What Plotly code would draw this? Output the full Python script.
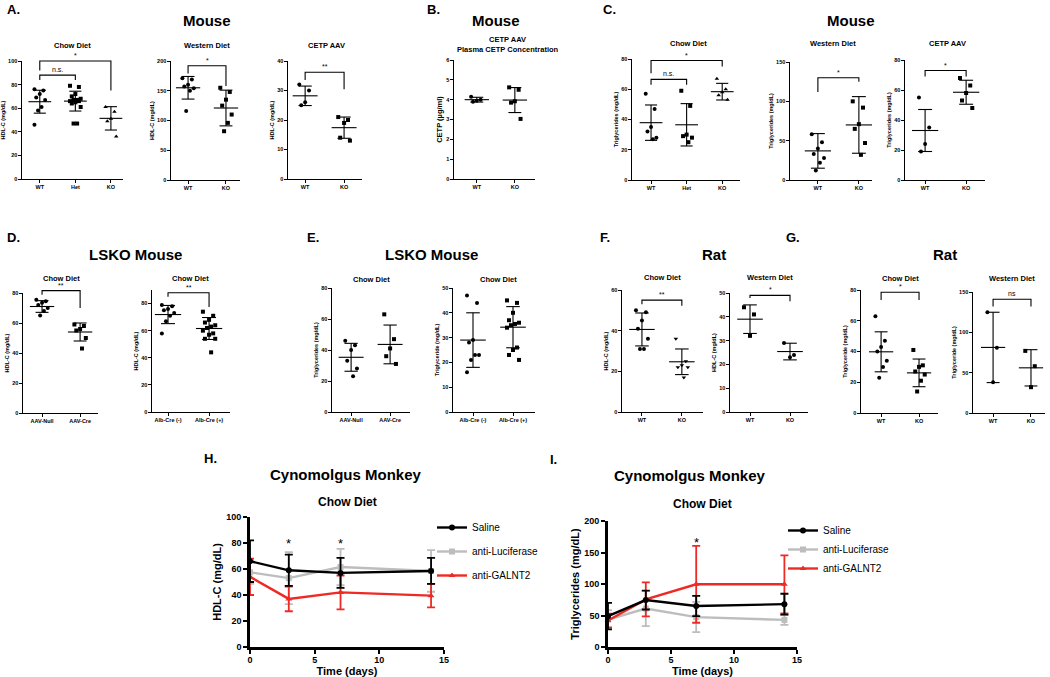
import plotly.graph_objects as go

W, H = 1050, 677
FONT = "Liberation Sans, Arial, sans-serif"
RED = "#ee2a24"
GREY = "#bdbdbd"

# ---------------- data ----------------
# A. Mouse, HDL-C
A_CHOW_CATS = ["WT", "Het", "KO"]
A_CHOW_VALS = [[76, 75, 72, 69, 67, 61, 58, 46],
               [79, 78, 72, 70, 68, 67, 67, 66, 66, 65, 64, 61, 47, 47],
               [61, 57, 51, 49, 36]]
A_CHOW_MEAN = [65.5, 66, 51.4]
A_CHOW_SD = [9.7, 8.4, 9.9]
A_CHOW_SIG = [(0, 1, 88, 84, 84, "n.s."), (0, 2, 100, 92, 75, "*")]

A_WEST_CATS = ["WT", "KO"]
A_WEST_VALS = [[171, 169, 160, 157, 154, 150, 116], [155, 148, 135, 125, 110, 96, 82]]
A_WEST_MEAN = [155, 121]
A_WEST_SD = [19, 30]
A_WEST_SIG = [(0, 1, 192, 179, 158, "*")]

A_CETP_CATS = ["WT", "KO"]
A_CETP_VALS = [[32, 30, 26, 25], [21, 20, 19, 14, 13]]
A_CETP_MEAN = [28.2, 17.4]
A_CETP_SD = [3.3, 3.6]
A_CETP_SIG = [(0, 1, 36.2, 33.6, 30.4, "**")]

# B. Mouse, plasma CETP
B_CATS = ["WT", "KO"]
B_VALS = [[4.15, 4.0, 3.95, 3.9], [4.62, 4.5, 3.92, 3.85, 3.03]]
B_MEAN = [4.0, 3.98]
B_SD = [0.12, 0.63]

# C. Mouse, triglycerides
C_CHOW_CATS = ["WT", "Het", "KO"]
C_CHOW_VALS = [[57, 47, 35, 32, 28, 27], [59, 49, 30, 29, 28, 25], [67, 60, 58, 56, 53]]
C_CHOW_MEAN = [37.9, 36.5, 58.4]
C_CHOW_SD = [11.7, 14, 5.5]
C_CHOW_SIG = [(0, 1, 66.5, 63, 63, "n.s."), (0, 2, 79, 70.5, 75, "*")]

C_WEST_CATS = ["WT", "KO"]
C_WEST_VALS = [[58, 48, 40, 33, 28, 22, 12], [100, 92, 71, 65, 47, 32]]
C_WEST_MEAN = [37, 70]
C_WEST_SD = [22, 36]
C_WEST_SIG = [(0, 1, 130, 112, 125, "*")]

C_CETP_CATS = ["WT", "KO"]
C_CETP_VALS = [[55, 35, 24, 19], [68, 63, 58, 53, 48]]
C_CETP_MEAN = [33, 58.5]
C_CETP_SD = [14, 8]
C_CETP_SIG = [(0, 1, 73, 69, 69, "*")]

# D. LSKO mouse, HDL-C
D_AAV_CATS = ["AAV-Null", "AAV-Cre"]
D_AAV_VALS = [[75.5, 74.5, 73.5, 72, 70, 68, 65], [59, 58, 56, 55, 50, 43]]
D_AAV_MEAN = [71, 54]
D_AAV_SD = [3.9, 6]
D_AAV_SIG = [(0, 1, 81.6, 78.9, 70, "**")]

D_ALB_CATS = ["Alb-Cre (-)", "Alb-Cre (+)"]
D_ALB_VALS = [[79, 78, 76, 75, 73, 71, 67, 58],
              [74, 71, 68, 66, 64, 63, 62, 60, 58, 57, 54, 54, 44]]
D_ALB_MEAN = [71.9, 61.6]
D_ALB_SD = [6.7, 8.1]
D_ALB_SIG = [(0, 1, 88, 85, 77.5, "**")]

# E. LSKO mouse, triglycerides
E_AAV_CATS = ["AAV-Null", "AAV-Cre"]
E_AAV_VALS = [[46, 43, 40, 33, 28, 23], [63, 47, 41, 36, 31]]
E_AAV_MEAN = [35.3, 43.6]
E_AAV_SD = [9, 12.5]

E_ALB_CATS = ["Alb-Cre (-)", "Alb-Cre (+)"]
E_ALB_VALS = [[47, 44, 29, 28, 23, 23, 21, 16],
              [45, 44, 40, 37, 36, 35.5, 35, 34, 26, 25, 23, 21]]
E_ALB_MEAN = [29, 34.2]
E_ALB_SD = [11, 8.3]

# F. Rat, HDL-C
F_CHOW_CATS = ["WT", "KO"]
F_CHOW_VALS = [[50, 49, 45, 41, 36, 31, 31], [36, 25, 23, 22, 22, 17]]
F_CHOW_MEAN = [40.6, 24.7]
F_CHOW_SD = [8.1, 6.3]
F_CHOW_SIG = [(0, 1, 55, 53, 52.3, "**")]

F_WEST_CATS = ["WT", "KO"]
F_WEST_VALS = [[44, 41, 32], [29, 24, 23]]
F_WEST_MEAN = [39, 25.4]
F_WEST_SD = [6, 3.5]
F_WEST_SIG = [(0, 1, 49, 47.9, 46.5, "*")]

# G. Rat, triglyceride
G_CHOW_CATS = ["WT", "KO"]
G_CHOW_VALS = [[63, 47, 43, 40, 34, 30, 23], [41, 31, 30, 27, 25, 21, 14]]
G_CHOW_MEAN = [39.8, 26.1]
G_CHOW_SD = [13, 9]
G_CHOW_SIG = [(0, 1, 78.5, 73.5, 73.5, "*")]

G_WEST_CATS = ["WT", "KO"]
G_WEST_VALS = [[125, 81, 38], [77, 58, 32]]
G_WEST_MEAN = [81.3, 56]
G_WEST_SD = [43.6, 22.5]
G_WEST_SIG = [(0, 1, 141, 132, 132, "ns")]

# H / I. Cynomolgus monkey time course
DAYS = [0, 3, 7, 14]
H_SALINE = [66, 59, 57, 58.5]
H_SALINE_SD = [16, 12, 11.5, 10]
H_LUC = [57.5, 53, 61.5, 58.5]
H_LUC_SD = [9, 20, 14, 16]
H_GALNT2 = [54, 37, 42, 39.5]
H_GALNT2_SD = [14, 9.5, 13, 9]
H_STAR_DAYS = [3, 7]
H_STAR_Y = [80, 80]

I_SALINE = [49, 74.5, 65, 68]
I_SALINE_SD = [21, 15, 16, 16.5]
I_LUC = [43.5, 61, 47.5, 43]
I_LUC_SD = [15, 28, 24, 8]
I_GALNT2 = [42, 75.5, 99.5, 99.5]
I_GALNT2_SD = [11, 27, 61, 46]
I_STAR_DAYS = [7]
I_STAR_Y = [166]

# ---------------- figure ----------------
fig = go.Figure()
layout = {}
annotations = []
axis_count = [0]


def bold(size):
    return dict(family=FONT, size=size, color="black", weight="bold")


def add_axes(box, xrange, yrange, visible=True, lw=1.2, ticklen=2.5, tickfont=5.5):
    axis_count[0] += 1
    k = axis_count[0]
    sx = "" if k == 1 else str(k)
    l, t, r, b = box
    common = dict(showline=True, linecolor="black", linewidth=lw, ticks="outside",
                  ticklen=ticklen, tickwidth=lw * 0.8, tickcolor="black",
                  tickfont=bold(tickfont), showgrid=False, zeroline=False,
                  fixedrange=True, automargin=False, visible=visible)
    layout["xaxis" + sx] = dict(domain=[l / W, r / W], range=xrange, anchor="y" + sx, **common)
    layout["yaxis" + sx] = dict(domain=[1 - b / H, 1 - t / H], range=yrange, anchor="x" + sx, **common)
    return "x" + sx, "y" + sx, sx


def spread(n, step=0.05):
    # deterministic side-by-side spread of the dots around the category
    return [(((i * 5) % 7) - 3) * step for i in range(n)]


def dot_panel(box, xrange, yrange, dtick, cats, vals, means, sds, symbols,
              ytitle, title, title_xy, sig=(), ytitle_size=5.5):
    xa, ya, sx = add_axes(box, xrange, yrange)
    layout["xaxis" + sx].update(tickvals=list(range(len(cats))), ticktext=cats)
    layout["yaxis" + sx].update(dtick=dtick, title=dict(text=ytitle, font=bold(ytitle_size), standoff=2))
    for i, (v, sym) in enumerate(zip(vals, symbols)):
        fig.add_trace(go.Scatter(
            x=[i + o for o in spread(len(v))], y=v, mode="markers",
            marker=dict(symbol=sym, size=4, color="black", line=dict(width=0)),
            xaxis=xa, yaxis=ya, showlegend=False, cliponaxis=False, hoverinfo="y"))
    ex, ey = [], []
    for i, (m, s) in enumerate(zip(means, sds)):
        ex += [i - 0.32, i + 0.32, None, i, i, None, i - 0.17, i + 0.17, None, i - 0.17, i + 0.17, None]
        ey += [m, m, None, m - s, m + s, None, m + s, m + s, None, m - s, m - s, None]
    fig.add_trace(go.Scatter(x=ex, y=ey, mode="lines", line=dict(color="black", width=1.1),
                             xaxis=xa, yaxis=ya, showlegend=False, hoverinfo="skip"))
    if sig:
        # invisible companion axes with the same scale, taller, so brackets above the top tick show
        l, t, r, b = box
        extra = 30
        y0, y1 = yrange
        bx, by, _ = add_axes((l, t - extra, r, b), xrange,
                             [y0, y1 + (y1 - y0) * extra / (b - t)], visible=False)
        for a, bb, top, ya_l, yb_r, label in sig:
            fig.add_trace(go.Scatter(x=[a, a, bb, bb], y=[ya_l, top, top, yb_r], mode="lines",
                                     line=dict(color="black", width=1.1), xaxis=bx, yaxis=by,
                                     showlegend=False, hoverinfo="skip"))
            annotations.append(dict(x=(a + bb) / 2, y=top, xref=bx, yref=by, text=label,
                                    showarrow=False, yanchor="bottom",
                                    font=dict(family=FONT, size=7, color="black")))
    annotations.append(dict(x=title_xy[0] / W, y=1 - title_xy[1] / H, xref="paper", yref="paper",
                            text=title, showarrow=False, xanchor="center", yanchor="middle",
                            font=bold(7.5)))


HDL = "HDL-C (mg/dL)"
TG = "Triglycerides (mg/dL)"
TG1 = "Triglyceride (mg/dL)"

# A
dot_panel((22, 61, 123, 179), [-0.5, 2.34], [0, 100], 20, A_CHOW_CATS, A_CHOW_VALS,
          A_CHOW_MEAN, A_CHOW_SD, ["circle", "square", "triangle-up"], HDL,
          "Chow Diet", (72, 46), A_CHOW_SIG)
dot_panel((171, 61, 240, 180), [-0.45, 1.37], [0, 200], 50, A_WEST_CATS, A_WEST_VALS,
          A_WEST_MEAN, A_WEST_SD, ["circle", "square"], HDL, "Western Diet", (207, 46), A_WEST_SIG)
dot_panel((288, 61, 362, 179), [-0.44, 1.46], [0, 40], 10, A_CETP_CATS, A_CETP_VALS,
          A_CETP_MEAN, A_CETP_SD, ["circle", "square"], HDL, "CETP AAV", (326, 46), A_CETP_SIG)
# B
dot_panel((454, 60, 535, 179), [-0.6, 1.53], [0, 6], 1, B_CATS, B_VALS, B_MEAN, B_SD,
          ["circle", "square"], "CETP (µg/ml)", "CETP AAV<br>Plasma CETP Concentration",
          (508, 45), ytitle_size=7.5)
# C
dot_panel((632, 59, 740, 180), [-0.535, 2.5], [0, 80], 20, C_CHOW_CATS, C_CHOW_VALS,
          C_CHOW_MEAN, C_CHOW_SD, ["circle", "square", "triangle-up"], TG,
          "Chow Diet", (688, 43), C_CHOW_SIG)
dot_panel((790, 62, 872, 180), [-0.68, 1.32], [0, 150], 50, C_WEST_CATS, C_WEST_VALS,
          C_WEST_MEAN, C_WEST_SD, ["circle", "square"], TG, "Western Diet", (833, 43), C_WEST_SIG)
dot_panel((905, 60, 985, 180), [-0.49, 1.46], [0, 80], 20, C_CETP_CATS, C_CETP_VALS,
          C_CETP_MEAN, C_CETP_SD, ["circle", "square"], TG, "CETP AAV", (948, 43), C_CETP_SIG)
# D
dot_panel((23, 293, 98, 413), [-0.5, 1.47], [0, 80], 20, D_AAV_CATS, D_AAV_VALS,
          D_AAV_MEAN, D_AAV_SD, ["circle", "square"], HDL, "Chow Diet", (61, 278), D_AAV_SIG)
dot_panel((152, 290, 230, 412), [-0.39, 1.51], [0, 90], 20, D_ALB_CATS, D_ALB_VALS,
          D_ALB_MEAN, D_ALB_SD, ["circle", "square"], HDL, "Chow Diet", (190, 278), D_ALB_SIG)
# E
dot_panel((332, 288, 410, 412), [-0.49, 1.51], [0, 80], 20, E_AAV_CATS, E_AAV_VALS,
          E_AAV_MEAN, E_AAV_SD, ["circle", "square"], TG, "Chow Diet", (371, 279))
dot_panel((453, 288, 535, 412), [-0.5, 1.55], [0, 50], 10, E_ALB_CATS, E_ALB_VALS,
          E_ALB_MEAN, E_ALB_SD, ["circle", "square"], TG1, "Chow Diet", (498, 279))
# F
dot_panel((622, 290, 703, 412), [-0.5, 1.53], [0, 60], 20, F_CHOW_CATS, F_CHOW_VALS,
          F_CHOW_MEAN, F_CHOW_SD, ["circle", "triangle-down"], HDL, "Chow Diet", (662, 277), F_CHOW_SIG)
dot_panel((730, 293, 808, 412), [-0.5, 1.45], [0, 50], 10, F_WEST_CATS, F_WEST_VALS,
          F_WEST_MEAN, F_WEST_SD, ["square", "circle"], HDL, "Western Diet", (770, 277), F_WEST_SIG)
# G
dot_panel((861, 290, 938, 413), [-0.53, 1.5], [0, 80], 20, G_CHOW_CATS, G_CHOW_VALS,
          G_CHOW_MEAN, G_CHOW_SD, ["circle", "square"], TG1, "Chow Diet", (900, 278), G_CHOW_SIG)
dot_panel((973, 292, 1045, 413), [-0.53, 1.37], [0, 150], 50, G_WEST_CATS, G_WEST_VALS,
          G_WEST_MEAN, G_WEST_SD, ["circle", "square"], TG1, "Western Diet", (1012, 278), G_WEST_SIG)


def time_panel(box, yrange, dtick, series, ytitle, star_x, star_y, legend):
    xa, ya, sx = add_axes(box, [0, 15], yrange, lw=2.6, ticklen=4, tickfont=9)
    layout["xaxis" + sx].update(dtick=5, ticklabelstandoff=-2,
                                title=dict(text="Time (days)", font=bold(11), standoff=1))
    layout["yaxis" + sx].update(dtick=dtick, title=dict(text=ytitle, font=bold(11), standoff=3))
    for name, y, sd, color, sym, rank in series:
        fig.add_trace(go.Scatter(
            x=DAYS, y=y, name=name, mode="lines+markers",
            line=dict(color=color, width=2.4), marker=dict(symbol=sym, size=6, color=color),
            error_y=dict(type="data", array=sd, color=color, thickness=1.8, width=4),
            xaxis=xa, yaxis=ya, legend=legend,
            legendgroup=(legend + name) if legend == "legend" else legend,
            legendrank=rank, cliponaxis=False))
    for x, y in zip(star_x, star_y):
        annotations.append(dict(x=x, y=y, xref=xa, yref=ya, text="*", showarrow=False,
                                font=dict(family=FONT, size=13, color="black")))


time_panel((250, 517, 444, 647), [0, 100], 20,
           [("anti-Luciferase", H_LUC, H_LUC_SD, GREY, "square", 2),
            ("anti-GALNT2", H_GALNT2, H_GALNT2_SD, RED, "triangle-up", 3),
            ("Saline", H_SALINE, H_SALINE_SD, "black", "circle", 1)],
           HDL, H_STAR_DAYS, H_STAR_Y, "legend")
time_panel((608, 521, 797, 647), [0, 200], 50,
           [("anti-Luciferase", I_LUC, I_LUC_SD, GREY, "square", 2),
            ("anti-GALNT2", I_GALNT2, I_GALNT2_SD, RED, "triangle-up", 3),
            ("Saline", I_SALINE, I_SALINE_SD, "black", "circle", 1)],
           TG, I_STAR_DAYS, I_STAR_Y, "legend2")

# panel letters and headers
HEADERS = [("A.", 13, 9, 13), ("Mouse", 207, 21, 15),
           ("B.", 433, 9, 13), ("Mouse", 496, 21, 15),
           ("C.", 609, 9, 13), ("Mouse", 851, 21, 15),
           ("D.", 13, 237, 13), ("LSKO Mouse", 135, 254, 15),
           ("E.", 313, 238, 13), ("LSKO Mouse", 431, 254, 15),
           ("F.", 605, 238, 13), ("Rat", 714, 254, 15),
           ("G.", 793, 238, 13), ("Rat", 945, 254, 15),
           ("H.", 210, 458, 13), ("Cynomolgus Monkey", 346, 474, 15), ("Chow Diet", 347, 502, 12),
           ("I.", 553, 459, 13), ("Cynomolgus Monkey", 690, 475, 15), ("Chow Diet", 702, 504, 12)]
for text, x, y, size in HEADERS:
    annotations.append(dict(x=x / W, y=1 - y / H, xref="paper", yref="paper", text=text,
                            showarrow=False, xanchor="center", yanchor="middle", font=bold(size)))

leg_common = dict(xanchor="left", yanchor="top", bgcolor="rgba(0,0,0,0)",
                  font=dict(family=FONT, size=10, color="black"), itemwidth=30,
                  traceorder="grouped")
fig.update_layout(
    width=W, height=H, margin=dict(l=0, r=0, t=0, b=0),
    paper_bgcolor="white", plot_bgcolor="rgba(0,0,0,0)",
    font=dict(family=FONT, color="black"),
    annotations=annotations,
    legend=dict(x=432 / W, y=1 - 513 / H, tracegroupgap=5, **leg_common),
    legend2=dict(x=783 / W, y=1 - 516 / H, tracegroupgap=0, **leg_common),
    **layout,
)

fig.write_html("out.html", config={"displayModeBar": False},
               post_script="document.body.style.margin='0';")
